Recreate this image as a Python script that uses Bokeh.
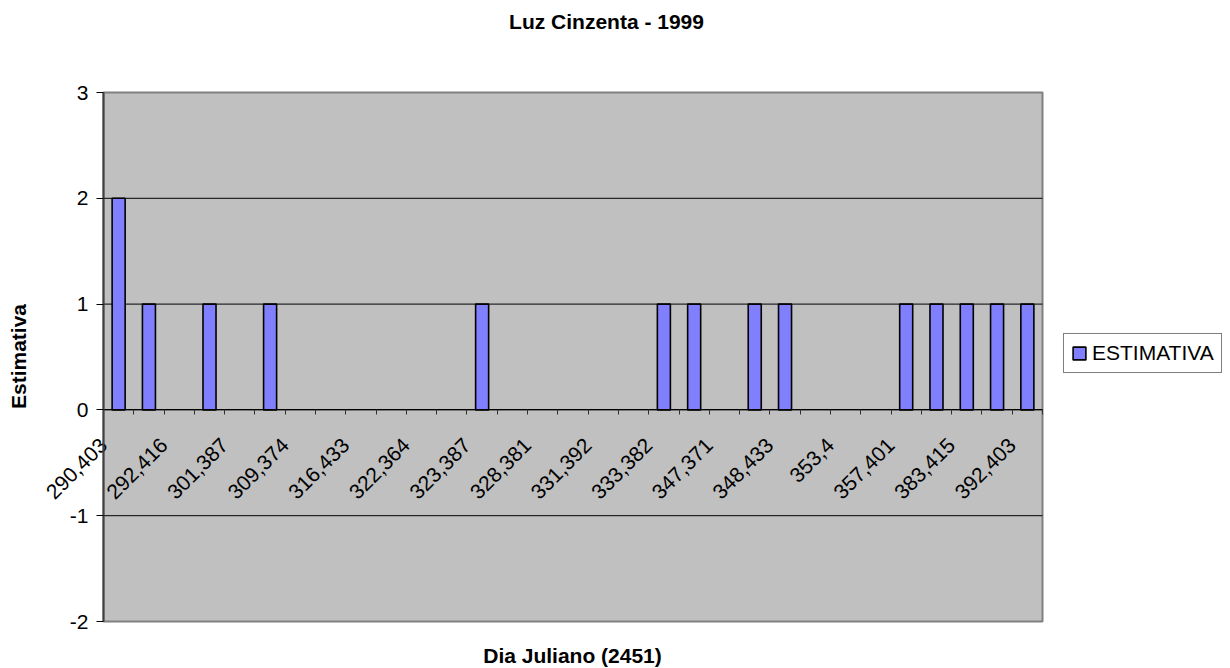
import math
from bokeh.plotting import figure
from bokeh.models import (FixedTicker, LinearAxis, Legend, LegendItem, Label,
                          Range1d, ColumnDataSource)
from bokeh.embed import file_html
from bokeh.resources import INLINE

# ---- data -------------------------------------------------------------
# 31 categories (Dia Juliano); only every other label is shown in the chart
tick_labels = ["290,403", "292,416", "301,387", "309,374", "316,433", "322,364",
               "323,387", "328,381", "331,392", "333,382", "347,371", "348,433",
               "353,4", "357,401", "383,415", "392,403"]
estimativa = [2, 1, 0, 1, 0, 1, 0, 0, 0, 0, 0, 0, 1, 0, 0, 0,
              0, 0, 1, 1, 0, 1, 1, 0, 0, 0, 1, 1, 1, 1, 1]
y_ticks = [-2, -1, 0, 1, 2, 3]

n = len(estimativa)
ymin, ymax = min(y_ticks), max(y_ticks)
idx = list(range(n))
bar_x = [i for i, v in zip(idx, estimativa) if v != 0]
bar_top = [v for v in estimativa if v != 0]
src = ColumnDataSource(dict(x=bar_x, top=bar_top))

# ---- layout (pixels) ----------------------------------------------------
W, H = 1230, 668
PX_L, PX_R, PX_T, PX_B = 103, 1042, 92, 621      # plot area
xs = (PX_R - PX_L) / n
ys = (PX_B - PX_T) / (ymax - ymin)
x0, x1 = -0.5, n - 0.5


def X(px):
    return x0 + (px - PX_L) / xs


def Y(py):
    return ymax - (py - PX_T) / ys


FONT = "Liberation Sans"
FS = "21px"

p = figure(width=W, height=H,
           x_range=Range1d(X(0), X(W)), y_range=Range1d(Y(H), Y(0)),
           x_axis_location=None, y_axis_location=None,
           min_border=0, min_border_left=0, min_border_right=0,
           min_border_top=0, min_border_bottom=0,
           output_backend="svg", toolbar_location=None)
p.background_fill_color = "white"
p.border_fill_color = "white"
p.outline_line_color = None
p.xgrid.visible = False
p.ygrid.visible = False

# plot area
p.quad(left=x0, right=x1, bottom=ymin, top=ymax,
       fill_color="#C0C0C0", line_color="#808080", line_width=2)

# horizontal gridlines
grid_y = [t for t in y_ticks if ymin < t < ymax]
p.segment(x0=[x0] * len(grid_y), x1=[x1] * len(grid_y), y0=grid_y, y1=grid_y,
          line_color="black", line_width=1)

# bars
r = p.vbar(x="x", top="top", bottom=0, width=0.43, source=src,
           fill_color="#8080FF", line_color="black", line_width=1.6)

# y axis on the left edge of the plot area
ya = LinearAxis(fixed_location=x0, bounds=(ymin, ymax),
                ticker=FixedTicker(ticks=y_ticks),
                major_label_overrides={t: str(t) for t in y_ticks})
ya.axis_line_color = "#404040"
ya.axis_line_width = 2
ya.major_tick_out = 7
ya.major_tick_in = 0
ya.major_tick_line_color = "black"
ya.minor_tick_line_color = None
ya.major_label_text_font = FONT
ya.major_label_text_font_size = FS
ya.major_label_text_color = "black"
ya.major_label_standoff = 8
p.add_layout(ya, "left")

# x axis crossing at zero
even = list(range(0, n, 2))
shift = 0.5
xa = LinearAxis(fixed_location=0, bounds=(x0, x1),
                ticker=FixedTicker(ticks=[i - shift for i in even],
                                   minor_ticks=[k + 0.5 for k in range(-1, n)]),
                major_label_overrides={i - shift: lab for i, lab in zip(even, tick_labels)})
xa.axis_line_color = "black"
xa.major_tick_line_color = None
xa.major_tick_out = 0
xa.major_tick_in = 0
xa.minor_tick_out = 5
xa.minor_tick_in = 0
xa.minor_tick_line_color = "#303030"
xa.major_label_orientation = math.pi / 4
xa.major_label_text_font = FONT
xa.major_label_text_font_size = FS
xa.major_label_text_color = "black"
xa.major_label_standoff = 27
p.add_layout(xa, "below")

# titles
p.add_layout(Label(x=X(606), y=Y(21), text="Luz Cinzenta - 1999",
                   text_align="center", text_baseline="middle",
                   text_font=FONT, text_font_size=FS, text_font_style="bold",
                   text_color="black"))
p.add_layout(Label(x=X(572), y=Y(655), text="Dia Juliano (2451)",
                   text_align="center", text_baseline="middle",
                   text_font=FONT, text_font_size=FS, text_font_style="bold",
                   text_color="black"))
p.add_layout(Label(x=X(18), y=Y(356), text="Estimativa", angle=math.pi / 2,
                   text_align="center", text_baseline="middle",
                   text_font=FONT, text_font_size=FS, text_font_style="bold",
                   text_color="black"))

legend = Legend(items=[LegendItem(label="ESTIMATIVA", renderers=[r])],
                location=(1063, H - 373), orientation="vertical",
                border_line_color="black", border_line_width=1,
                background_fill_color="white", background_fill_alpha=1,
                label_text_font=FONT, label_text_font_size=FS,
                label_text_color="black",
                glyph_width=16, glyph_height=16, padding=7, spacing=0,
                label_standoff=5, margin=0, label_height=20)
p.add_layout(legend)

open("out.html", "w").write(file_html(p, INLINE))
